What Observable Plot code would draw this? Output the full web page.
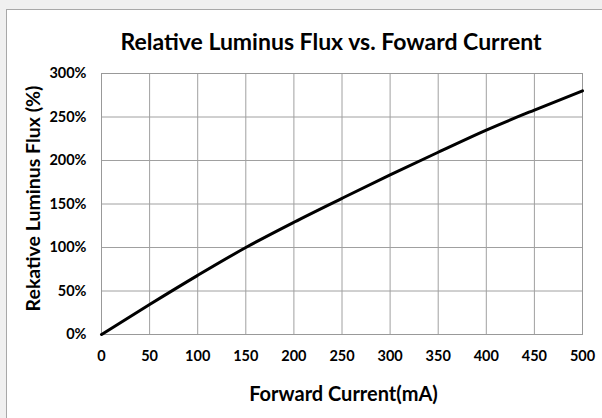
<!DOCTYPE html>
<html><head><meta charset="utf-8">
<script src="https://cdn.jsdelivr.net/npm/d3@7"></script>
<script src="https://cdn.jsdelivr.net/npm/@observablehq/plot@0.6"></script>
<style>
html,body{margin:0;padding:0;background:#f0f0f0;width:602px;height:418px;overflow:hidden;}
#card{position:absolute;left:6px;top:9px;width:700px;height:500px;background:#fff;border:1px solid #a8a8a8;}
#chart{position:absolute;left:0;top:0;}
</style></head><body><div id="card"></div><div id="chart"></div>
<script>
const current = [0, 50, 100, 150, 200, 250, 300, 350, 400, 450, 500];
const flux = [0, 34.5, 68, 100, 129, 156.5, 183.5, 209.5, 235, 258, 280];
const xTicks = [0, 50, 100, 150, 200, 250, 300, 350, 400, 450, 500];
const yTicks = [0, 50, 100, 150, 200, 250, 300];
const title = "Relative Luminus Flux vs. Foward Current";
const xLabel = "Forward Current(mA)";
const yLabel = "Rekative Luminus Flux (%)";

const data = current.map((c, i) => ({current: c, flux: flux[i]}));
const font = "Lato, 'Open Sans', sans-serif";

const plot = Plot.plot({
  width: 602, height: 418,
  marginLeft: 101, marginRight: 20, marginTop: 73, marginBottom: 84,
  style: {fontFamily: font, background: "transparent", overflow: "visible", color: "#000"},
  x: {domain: [0, 500], label: null},
  y: {domain: [0, 300], label: null},
  marks: [
    Plot.gridX(xTicks, {stroke: "#a0a0a0", strokeOpacity: 1}),
    Plot.gridY(yTicks, {stroke: "#a0a0a0", strokeOpacity: 1}),
    Plot.frame({stroke: "#999", strokeWidth: 1}),
    Plot.axisX(xTicks, {tickSize: 0, tickPadding: 16, fontWeight: "bold", fontSize: 14.5, fill: "#000", label: null}),
    Plot.axisY(yTicks, {tickSize: 0, tickPadding: 15, tickFormat: d => d + "%", fontWeight: "bold", fontSize: 14.5, fill: "#000", label: null}),
    Plot.line(data, {x: "current", y: "flux", stroke: "#000", strokeWidth: 3, curve: "monotone-x"}),
    Plot.text([title], {frameAnchor: "top", dx: -11, dy: -31, fontSize: 23, fontWeight: "bold", fill: "#000", lineAnchor: "middle"}),
    Plot.text([xLabel], {frameAnchor: "bottom", dx: 1.5, dy: 60, fontSize: 20, fontWeight: "bold", fill: "#000", lineAnchor: "middle"}),
    Plot.text([yLabel], {frameAnchor: "left", textAnchor: "middle", dx: -68, dy: -5.5, rotate: -90, fontSize: 19.5, fontWeight: "bold", fill: "#000", lineAnchor: "middle"})
  ]
});
document.getElementById("chart").appendChild(plot);
</script></body></html>
